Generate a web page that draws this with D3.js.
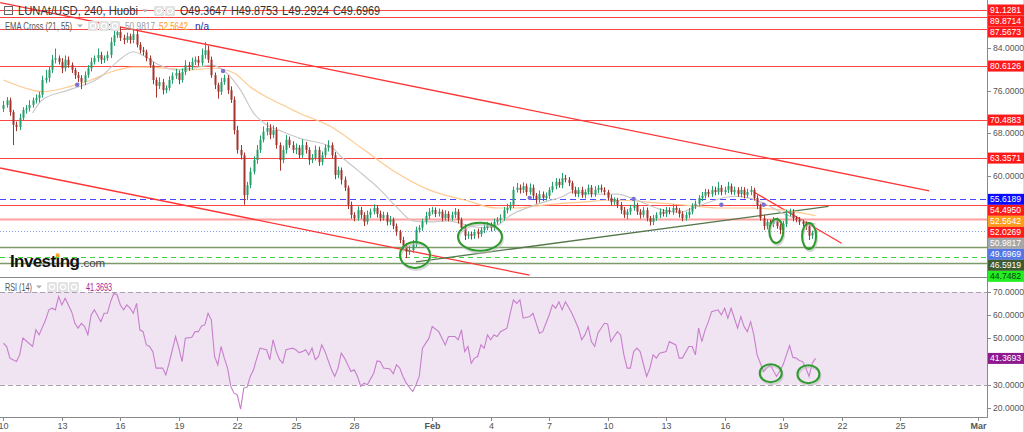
<!DOCTYPE html>
<html>
<head>
<meta charset="utf-8">
<script src="https://cdn.jsdelivr.net/npm/d3@7"></script>
<style>
  html, body { margin: 0; padding: 0; background: #fff; }
  svg { display: block; font-family: Arial, "Liberation Sans", sans-serif; }
</style>
</head>
<body>
<svg id="chart" width="1024" height="432"></svg>
<script>
/* ---------------------------------------------
 * DATA - LUNA/USD, 4h bars from Huobi.
 * Bar i opens at startTime + i*4h; its open is the previous close.
 * -------------------------------------------*/
const symbol = 'LUNAt/USD, 240, Huobi';
const startTime = Date.UTC(2022, 0, 10);
const firstOpen = 72.6;

const closes = [
  73.3,74.2,72.0,69.6,69.2,70.9,72.4,72.7,73.3,74.2,74.6,75.2,
  78.0,78.4,79.9,81.8,82.1,81.4,80.2,81.8,80.8,79.9,78.9,78.4,
  77.6,78.9,80.2,81.4,82.1,82.7,81.8,82.1,82.7,85.1,86.4,87.0,
  85.9,85.5,86.2,85.5,86.6,84.6,83.6,83.3,82.1,80.8,78.0,76.9,
  77.6,76.1,76.5,78.0,78.8,79.3,78.0,79.5,80.8,80.4,81.4,81.8,
  81.2,82.7,83.6,81.8,78.9,77.1,75.8,77.6,78.4,76.1,74.3,68.6,
  64.9,63.9,56.4,58.3,60.8,63.0,64.9,66.8,68.3,69.0,67.7,68.6,
  65.8,63.0,64.9,66.8,65.8,64.9,65.3,63.9,65.8,64.9,63.0,63.4,
  64.9,62.6,63.9,65.3,65.8,63.9,60.2,61.1,59.3,57.8,54.6,52.7,
  52.1,53.6,52.7,51.4,52.7,53.3,54.0,52.9,52.1,52.7,51.4,51.8,
  50.6,49.5,48.0,46.9,45.8,46.1,47.3,49.9,50.3,51.4,52.5,53.3,
  53.6,52.9,53.3,52.1,52.9,52.1,52.7,53.3,51.8,50.3,48.8,49.1,
  48.8,49.5,49.1,49.9,50.3,50.8,50.3,51.4,51.8,52.1,53.6,54.0,
  54.6,57.4,57.8,57.4,58.1,57.0,57.8,56.3,55.5,56.6,55.9,56.3,
  57.4,58.1,58.9,58.3,59.6,59.3,58.7,57.4,56.6,57.4,56.4,57.0,
  57.8,56.6,57.4,57.8,57.4,57.0,55.9,55.1,55.5,54.6,53.6,52.7,
  53.3,54.0,54.6,53.3,52.7,53.6,52.1,51.4,52.1,52.7,53.3,52.9,
  53.6,53.3,54.0,53.6,52.9,52.1,52.7,53.3,54.4,54.8,55.9,56.3,
  57.0,56.6,57.4,57.0,57.8,57.0,57.4,58.1,57.0,57.4,56.6,57.4,
  56.4,57.0,57.4,55.9,54.4,52.1,50.6,51.4,51.0,51.8,50.6,49.9,
  51.0,52.9,53.3,52.1,51.8,51.4,51.0,50.6,48.8,49.3647,49.6969
];
// wick lengths above the body top / below the body bottom
const wickUp = [
  0.8,0.6,0.5,0.4,0.6,0.8,0.5,0.6,0.9,0.5,0.7,0.6,
  0.8,1.5,0.6,0.9,1.8,0.5,0.7,0.8,0.6,0.5,0.4,0.6,
  0.5,0.7,0.6,0.8,0.5,1.2,0.6,0.5,0.7,0.9,0.8,0.8,
  0.9,0.6,0.7,0.5,0.9,0.6,0.5,0.6,0.4,0.5,0.6,0.5,
  0.9,0.6,0.5,0.7,0.6,0.8,0.5,0.7,0.9,0.6,0.8,0.6,
  0.7,1.2,1.5,0.8,0.6,0.5,0.4,0.8,0.6,0.5,0.7,0.6,
  0.8,0.9,0.5,0.6,0.8,0.7,0.9,0.8,1.0,1.1,0.7,0.9,
  0.6,0.5,0.8,0.9,0.6,0.7,0.8,0.5,1.1,0.6,0.5,0.7,
  0.8,0.6,0.7,0.6,0.9,0.5,0.6,0.7,0.5,0.6,0.4,0.6,
  0.5,0.7,0.6,0.5,0.8,0.6,0.7,0.5,0.6,0.6,0.5,0.7,
  0.4,0.5,0.4,0.6,0.5,0.8,0.7,0.6,0.5,0.6,0.8,0.7,
  0.6,0.5,0.6,0.4,0.7,0.5,0.6,0.7,0.5,0.4,0.6,0.5,
  0.4,0.5,0.6,0.5,0.7,0.6,0.5,0.6,0.5,0.7,0.6,0.8,
  0.5,0.6,0.9,0.6,0.7,0.5,0.8,0.6,0.5,0.7,0.5,0.6,
  0.5,0.8,0.7,0.6,1.0,0.6,0.5,0.4,0.6,0.5,0.6,0.5,
  0.6,0.5,0.7,0.5,0.6,0.5,0.4,0.6,0.5,0.4,0.5,0.6,
  0.5,0.6,0.7,0.4,0.5,0.6,0.5,0.4,0.6,0.5,0.6,0.5,
  0.6,0.5,0.7,0.5,0.4,0.5,0.6,0.7,0.5,0.6,0.5,0.7,
  0.6,0.5,0.7,0.6,1.1,0.5,0.6,0.8,0.5,0.6,0.5,0.6,
  0.5,0.6,0.7,0.4,0.5,0.4,0.6,0.5,0.4,0.5,0.4,0.5,
  0.6,0.8,0.6,0.5,0.4,0.5,0.4,0.5,0.6,0.4,0.1784
];
const wickDn = [
  0.6,0.5,0.7,3.8,0.8,0.6,0.5,0.7,0.6,0.5,0.6,0.8,
  0.5,0.6,0.8,0.6,0.7,0.5,0.9,0.6,0.5,0.6,0.7,0.8,
  1.3,0.6,0.5,0.6,0.5,0.7,0.8,0.6,0.5,0.6,0.7,0.5,
  0.6,0.8,0.5,0.7,0.6,0.5,0.6,0.7,0.6,0.5,0.8,2.2,
  0.6,0.8,0.6,0.5,0.7,0.6,0.8,0.5,0.6,0.7,0.5,0.6,
  0.6,0.5,0.7,0.6,0.5,0.8,1.3,0.6,0.5,0.7,0.6,0.8,
  0.7,0.8,1.8,0.9,0.6,0.5,0.7,0.6,0.5,0.7,0.8,0.6,
  0.7,2.0,0.6,0.7,0.5,0.6,0.8,0.6,0.5,0.7,0.9,0.6,
  0.5,0.7,0.6,0.5,0.7,0.6,0.8,0.6,0.9,0.6,0.8,0.7,
  0.6,0.5,0.7,0.8,0.5,0.6,0.5,0.7,0.6,0.5,0.7,0.6,
  0.6,0.7,0.6,0.7,1.2,0.6,0.5,0.6,0.5,0.6,0.5,0.6,
  0.5,0.6,0.5,0.6,0.5,0.6,0.5,0.6,0.7,0.6,0.8,0.6,
  0.7,0.6,0.8,0.5,0.6,0.5,0.7,0.6,0.5,0.6,0.5,0.6,
  0.5,0.6,0.5,0.7,0.6,0.7,0.5,0.6,0.7,0.5,0.6,0.5,
  0.6,0.5,0.6,0.5,0.6,0.5,0.6,0.7,0.5,0.6,0.5,0.6,
  0.5,0.6,0.5,0.6,0.5,0.6,0.5,0.6,0.5,0.6,0.7,0.6,
  0.8,0.6,0.5,0.6,0.7,0.5,0.6,0.7,0.6,0.5,0.6,0.5,
  0.6,0.5,0.6,0.5,0.7,0.6,0.5,0.6,0.5,0.6,0.5,0.6,
  0.5,0.6,0.5,0.6,0.5,0.6,0.5,0.6,0.5,0.6,0.5,0.6,
  0.6,0.5,0.6,0.5,0.6,0.5,0.7,0.6,0.5,0.6,0.5,0.8,
  0.5,0.6,0.5,0.6,0.5,0.6,0.5,0.7,0.8,0.6,0.0723
];

// EMA Cross (21, 55): [bar index, value]
const emaFast = [
  [9,71.8],[12,74.3],[20,76.1],[30,78.6],[35,81.4],[40,83.3],[43,82.6],[48,80.8],[53,79.9],
  [58,80.2],[64,80.8],[68,79.7],[73,76.1],[77,71.8],[81,69.6],[86,68.3],[91,67.1],[101,65.4],
  [104,63.6],[109,61.1],[116,57.4],[121,54.2],[126,51.6],[131,51.4],[137,51.6],[142,50.9],
  [147,50.3],[152,50.8],[156,52.6],[162,54.2],[167,55.2],[172,56.1],[175,57.0],[183,56.6],
  [189,56.6],[194,55.7],[202,53.8],[208,53.2],[214,54.4],[225,56.2],[230,55.8],[235,54.6],
  [240,53.0],[245,51.8],[250,50.9817]
];
const emaSlow = [
  [0,78.0],[9,76.1],[12,75.8],[20,76.7],[27,78.0],[33,79.5],[40,80.4],[45,80.4],[50,80.2],
  [57,79.9],[65,80.2],[71,79.3],[76,76.7],[81,74.8],[86,73.3],[91,71.8],[101,69.2],[111,64.9],
  [121,60.6],[131,57.4],[142,55.5],[152,54.0],[158,54.0],[167,54.6],[178,55.1],[188,55.5],
  [202,54.9],[209,54.6],[220,54.0],[230,54.0],[240,53.6],[250,52.5642]
];
const emaCrosses = [[22.7,77.1],[67.6,79.7],[162,55.9],[194,55.7],[221,54.6],[234,54.6]];

// RSI (14): [bar index, value]
const rsi = [
  [0,47.9],[1,46.5],[2,41.5],[4,40],[5,42.9],[6,50.1],[9,46.5],[10,53.7],[11,51.5],[13,58],
  [14,62.3],[15,63],[16,62.3],[17,68],[18,64.4],[19,67.3],[21,61.5],[22,56.5],[23,54.4],
  [24,56.5],[25,55.1],[26,51.5],[27,60.1],[28,62.3],[30,57.2],[31,60.8],[32,60.8],[33,65.8],
  [34,69.4],[35,68.7],[36,64.4],[37,62.3],[38,64.4],[39,63],[40,60.8],[41,65.1],[42,53.7],
  [43,52.9],[44,47.2],[45,46.5],[46,44.3],[47,37.2],[49,37.2],[50,34.3],[51,39.3],[53,50.8],
  [54,45.8],[55,40],[56,50.1],[58,50.5],[59,52.9],[60,52.9],[61,55.4],[62,55.8],[63,60.8],
  [64,58],[65,42.2],[66,38.6],[67,46.5],[68,41.5],[69,37.2],[70,29.3],[71,26.4],[72,25.7],
  [73,19.5],[74,28.6],[75,29],[76,33.6],[77,36.5],[78,41.5],[79,45.8],[81,45.1],[82,40.8],
  [83,49.4],[84,44.3],[85,40.8],[86,39.3],[87,45.1],[89,45.8],[90,45.1],[91,43.9],[92,44.3],
  [93,45.1],[94,42.9],[95,45.8],[96,40.8],[97,42.2],[98,47.2],[99,44.3],[101,36.5],[102,33.6],
  [103,37.2],[104,43.6],[105,41.5],[107,35.7],[108,36.5],[109,33.6],[110,29.3],[111,30.7],
  [112,30],[114,35],[115,40.3],[116,40],[117,37.2],[119,36.8],[120,34.7],[121,38.6],[122,37.2],
  [123,33.6],[124,30.7],[126,27.1],[127,30],[128,33.6],[129,45.8],[131,50.1],[132,55.1],
  [134,52.9],[136,47.2],[137,50.8],[139,50.8],[140,49.4],[141,53.7],[142,44.3],[143,46.5],
  [144,39.3],[145,41.5],[146,42.2],[147,47.2],[148,45.8],[149,51.5],[150,49.4],[151,51.5],
  [152,50.8],[153,52.9],[155,54.4],[156,60.8],[157,66.6],[158,65.1],[159,66.6],[160,58.7],
  [162,59.4],[163,60.8],[165,52.2],[166,52.9],[168,60.1],[169,64.4],[170,63],[171,65.8],
  [172,62.3],[173,65.8],[175,60.8],[177,54.4],[178,49.4],[179,51.5],[180,55.1],[181,48.6],
  [182,46.5],[183,52.2],[185,56.5],[186,56.2],[187,48.6],[188,50.8],[189,52.9],[190,51.5],
  [191,42.9],[192,37.2],[193,37.2],[194,44.3],[195,45.8],[196,44.3],[198,33.6],[199,37.2],
  [200,42.9],[201,41.5],[202,43.6],[204,44.3],[205,48.6],[207,47.2],[208,41.5],[209,41.5],
  [211,46.5],[212,46.5],[213,42.9],[214,54.4],[215,48.6],[216,53.7],[217,57.2],[218,61.5],
  [220,62.3],[221,60.1],[222,63],[223,58.7],[224,63],[226,54.4],[227,59.4],[228,55.1],
  [229,52.9],[230,57.2],[231,51.5],[232,42.9],[234,35.7],[235,37.2],[236,38.6],[238,33.6],
  [240,38.6],[242,46.9],[243,41.9],[244,41.5],[245,40.5],[246,40],[247,37.2],[248,33.6],
  [249,39.3],[250,41.3693]
];

// horizontal levels drawn on the chart
const levelPrices = [91.1281, 89.8714, 87.5673, 80.6126, 70.4883, 63.3571, 55.6189, 54.4950, 52.0269, 49.6969, 46.5919, 44.7482, 43.75];
const levelKinds  = ['red','red','red','red','red','red','blue','red','pink','last','olive','lime','olive'];

// drawn trend lines: [[bar, price], [bar, price]]
const trendLines = [
  { kind: 'red',   pts: [[-1, 92.5], [285, 57.2]] },
  { kind: 'red',   pts: [[-1, 61.5], [162, 41.4]] },
  { kind: 'olive', pts: [[127, 43.9], [254, 54.3]] },
  { kind: 'red',   pts: [[231, 57.0], [258, 47.4]] }
];
// green circles: price pane and RSI pane, [bar, value]
const priceCircles = [[126.7, 45.2], [146.7, 48.6], [237.9, 49.7], [248, 48.75]];
const rsiCircles = [[236.2, 35.0], [247.8, 34.6]];

const priceTicks = [44, 48, 52, 56, 60, 64, 68, 72, 76, 80, 84, 88, 92];
const rsiTicks = [20, 30, 40, 50, 60, 70];
const dayTicks = ['2022-01-10','2022-01-13','2022-01-16','2022-01-19','2022-01-22','2022-01-25','2022-01-28',
  '2022-02-01','2022-02-04','2022-02-07','2022-02-10','2022-02-13','2022-02-16','2022-02-19','2022-02-22',
  '2022-02-25','2022-03-01'];

/* ---------------------------------------------
 * Layout + scales
 * -------------------------------------------*/
const svg = d3.select('#chart');
const axisX = 987;
const mainBot = 277, rsiTop = 277, rsiBot = 417;

const x = d3.scaleUtc().domain([Date.UTC(2022,0,10), Date.UTC(2022,2,1)]).range([3.4, 978]);
const barTime = i => new Date(startTime + i * 4 * 3600e3);
const xb = i => x(barTime(i));
const y = d3.scaleLinear().domain([41.06, 93.0]).range([mainBot, 0]);
const yR = d3.scaleLinear().domain([16.13, 76.45]).range([rsiBot, rsiTop]);
const f4 = d3.format('.4f');

const defs = svg.append('defs');
defs.append('clipPath').attr('id','clipMain').append('rect').attr('x',0).attr('y',0).attr('width',axisX).attr('height',mainBot);
defs.append('clipPath').attr('id','clipRsi').append('rect').attr('x',0).attr('y',rsiTop).attr('width',axisX).attr('height',rsiBot-rsiTop);

svg.append('rect').attr('width',1024).attr('height',432).attr('fill','#fff');

/* ---------- RSI pane ---------- */
const gR = svg.append('g').attr('clip-path','url(#clipRsi)');
gR.append('rect').attr('x',0).attr('width',axisX)
  .attr('y', yR(70)).attr('height', yR(30) - yR(70)).attr('fill','#f1e4f2');
[70, 30].forEach(v => gR.append('line').attr('x1',0).attr('x2',axisX)
  .attr('y1', Math.round(yR(v))+0.5).attr('y2', Math.round(yR(v))+0.5)
  .attr('stroke','#a8a0ac').attr('stroke-dasharray','5,3'));
gR.append('path').datum(rsi)
  .attr('d', d3.line().x(d => xb(d[0])).y(d => yR(d[1])))
  .attr('fill','none').attr('stroke','#c67fcc').attr('stroke-width',1.1);
rsiCircles.forEach(c => {
  gR.append('ellipse').attr('cx', xb(c[0])+1).attr('cy', yR(c[1])+2).attr('rx',11).attr('ry',9)
    .attr('fill','none').attr('stroke','#bbb').attr('stroke-width',2).attr('opacity',0.6);
  gR.append('ellipse').attr('cx', xb(c[0])).attr('cy', yR(c[1])).attr('rx',11).attr('ry',9)
    .attr('fill','none').attr('stroke','#2c9a2c').attr('stroke-width',2);
});

/* ---------- price pane ---------- */
const gM = svg.append('g').attr('clip-path','url(#clipMain)');
const levelStyle = {
  red:   { stroke:'#ff3030', w:1.2, dash:null, op:0.9 },
  pink:  { stroke:'#ff8a8a', w:2,   dash:null, op:0.8 },
  blue:  { stroke:'#4848ff', w:1.2, dash:'6,4', op:1 },
  last:  { stroke:'#8a9cf0', w:1,   dash:'1,2', op:1 },
  olive: { stroke:'#7d9a6a', w:1.6, dash:null, op:1 },
  lime:  { stroke:'#3ad33a', w:1.2, dash:'5,4', op:1 }
};
levelPrices.forEach((p, k) => {
  const s = levelStyle[levelKinds[k]];
  const yy = Math.round(y(p)) + 0.5;
  gM.append('line').attr('x1',0).attr('x2',axisX).attr('y1',yy).attr('y2',yy)
    .attr('stroke', s.stroke).attr('stroke-width', s.w).attr('stroke-dasharray', s.dash).attr('opacity', s.op);
});

const trendColor = { red:'#ff3535', olive:'#55784a' };
trendLines.forEach(t => {
  gM.append('line')
    .attr('x1', xb(t.pts[0][0])).attr('y1', y(t.pts[0][1]))
    .attr('x2', xb(t.pts[1][0])).attr('y2', y(t.pts[1][1]))
    .attr('stroke', trendColor[t.kind]).attr('stroke-width', 1.3);
});

const emaLine = d3.line().curve(d3.curveMonotoneX).x(d => xb(d[0])).y(d => y(d[1]));
gM.append('path').datum(emaSlow).attr('d', emaLine).attr('fill','none').attr('stroke','#ffc98f').attr('stroke-width',1.2);
gM.append('path').datum(emaFast).attr('d', emaLine).attr('fill','none').attr('stroke','#c9c9c9').attr('stroke-width',1.2);

// candles
const bars = closes.map((c, i) => {
  const o = i ? closes[i-1] : firstOpen;
  return { i, o, c, h: Math.max(o, c) + wickUp[i], l: Math.min(o, c) - wickDn[i] };
});
const upCol = '#23a06a', dnCol = '#a3352c';
const gC = gM.append('g');
gC.selectAll('line').data(bars).join('line')
  .attr('x1', d => Math.round(xb(d.i)) + 0.5).attr('x2', d => Math.round(xb(d.i)) + 0.5)
  .attr('y1', d => y(d.h)).attr('y2', d => y(d.l))
  .attr('stroke', d => d.c >= d.o ? upCol : dnCol).attr('stroke-width', 1);
gC.selectAll('rect').data(bars).join('rect')
  .attr('x', d => Math.round(xb(d.i)) - 0.5).attr('width', 2)
  .attr('y', d => y(Math.max(d.o, d.c)))
  .attr('height', d => Math.max(1, Math.abs(y(d.o) - y(d.c))))
  .attr('fill', d => d.c >= d.o ? upCol : dnCol);

gM.selectAll('circle.cross').data(emaCrosses).join('circle').attr('class','cross')
  .attr('cx', d => xb(d[0])).attr('cy', d => y(d[1])).attr('r', 2.2).attr('fill','#7b6fd6');

priceCircles.forEach((c, k) => {
  const r = [[15,13],[22,14],[7,12],[7,13]][k];
  gM.append('ellipse').attr('cx', xb(c[0])+1).attr('cy', y(c[1])+2).attr('rx',r[0]).attr('ry',r[1])
    .attr('fill','none').attr('stroke','#bbb').attr('stroke-width',2).attr('opacity',0.6);
  gM.append('ellipse').attr('cx', xb(c[0])).attr('cy', y(c[1])).attr('rx',r[0]).attr('ry',r[1])
    .attr('fill','none').attr('stroke','#2c9a2c').attr('stroke-width',2);
});

// watermark
const logo = svg.append('g').attr('transform','translate(10,267)');
const inv = logo.append('text').attr('font-size',17).attr('font-weight','bold').attr('fill','#111')
  .attr('letter-spacing','-0.6').text('Investing');
const invW = inv.node().getComputedTextLength();
logo.append('text').attr('x', invW + 1).attr('font-size',11.5).attr('fill','#444').text('.com');
const sub = inv.node().getSubStringLength(0, 6), iw = inv.node().getSubStringLength(6, 1);
logo.append('rect').attr('x', sub + iw/2 - 1.8).attr('y', -13.5).attr('width',3.6).attr('height',3.6).attr('fill','#f4a11d');

/* ---------- pane borders + axes ---------- */
svg.append('line').attr('x1',0).attr('x2',axisX).attr('y1',mainBot+0.5).attr('y2',mainBot+0.5).attr('stroke','#8a8a8a');
svg.append('line').attr('x1',0).attr('x2',axisX+0.5).attr('y1',rsiBot+0.5).attr('y2',rsiBot+0.5).attr('stroke','#8a8a8a');
svg.append('line').attr('x1',axisX+0.5).attr('x2',axisX+0.5).attr('y1',0).attr('y2',rsiBot+1).attr('stroke','#8a8a8a');
svg.append('line').attr('x1',1023.5).attr('x2',1023.5).attr('y1',0).attr('y2',432).attr('stroke','#ddd');

/* ---------- value labels on the price scale (stacked so they never overlap) ---------- */
const labelCol = { red:'#ff1a1a', pink:'#ff1a1a', blue:'#0a0aff', last:'#5577e6', olive:'#3f5a2c', lime:'#22ee22' };
const priceLabels = levelPrices.slice(0, -1).map((p, k) => ({ v: p, bg: labelCol[levelKinds[k]], fg: levelKinds[k]==='lime' ? '#0a3a0a' : '#fff' }))
  .concat([
    { v: emaSlow[emaSlow.length-1][1], bg:'#ff9a1a', fg:'#fff' },
    { v: emaFast[emaFast.length-1][1], bg:'#a6a6a6', fg:'#fff' }
  ]);
function stack(list, scale) {
  list.sort((a, b) => scale(a.v) - scale(b.v));
  let prev = -1e9;
  list.forEach(d => { d.y = Math.max(scale(d.v), prev + 11); prev = d.y; });
  return list;
}
const mainLabels = stack(priceLabels, y);
const rsiLabels = stack([{ v: rsi[rsi.length-1][1], bg:'#8e1a8e', fg:'#fff' }], yR);

const gA = svg.append('g').attr('font-size',8.6).attr('fill','#555');
function tickLabels(vals, scale, lo, hi, boxes) {
  vals.forEach(v => {
    const yy = scale(v);
    if (yy < lo || yy > hi) return;
    if (boxes.some(b => Math.abs(b.y - yy) < 10.5)) return;   // hidden behind a value label
    gA.append('line').attr('x1',axisX).attr('x2',axisX+4).attr('y1',Math.round(yy)+0.5).attr('y2',Math.round(yy)+0.5).attr('stroke','#888');
    gA.append('text').attr('x', axisX+6).attr('y', yy).attr('dy','0.35em').text(f4(v));
  });
}
tickLabels(priceTicks, y, 2, mainBot - 3, mainLabels);
tickLabels(rsiTicks, yR, rsiTop + 4, rsiBot - 4, rsiLabels);

mainLabels.concat(rsiLabels).forEach(d => {
  svg.append('rect').attr('x', axisX+1).attr('y', d.y - 5.5).attr('width', 36).attr('height', 11).attr('fill', d.bg);
  svg.append('text').attr('x', axisX+3).attr('y', d.y).attr('dy','0.35em').attr('font-size',8.6).attr('fill', d.fg).text(f4(d.v));
});

// time axis
const gT = svg.append('g').attr('font-size',9).attr('fill','#555').attr('text-anchor','middle');
dayTicks.forEach(s => {
  const d = new Date(s + 'T00:00:00Z');
  const xx = Math.round(x(d)) + 0.5;
  const isMonth = d.getUTCDate() === 1;
  gT.append('line').attr('x1',xx).attr('x2',xx).attr('y1',rsiBot).attr('y2',rsiBot+4).attr('stroke','#888');
  gT.append('text').attr('x',xx).attr('y',428.5).attr('font-weight', isMonth ? 'bold' : null)
    .text(isMonth ? d3.utcFormat('%b')(d) : d.getUTCDate());
});

/* ---------- legends ---------- */
function icons(g, x0, yTop, n) {
  for (let k = 0; k < n; k++) {
    g.append('rect').attr('x', x0 + k*11).attr('y', yTop).attr('width',10).attr('height',10).attr('rx',1.5).attr('fill','#e2e2e2');
    g.append('circle').attr('cx', x0 + k*11 + 5).attr('cy', yTop + 5).attr('r', 2.6).attr('fill','none').attr('stroke','#fff').attr('stroke-width',1.1);
  }
}
function caret(g, cx, cy) {
  g.append('path').attr('d', `M${cx-3},${cy-1.5}L${cx+3},${cy-1.5}L${cx},${cy+1.5}Z`).attr('fill','#b0b0b0');
}
function fitText(g, str, x0, yb, size, width, col) {
  return g.append('text').attr('x', x0).attr('y', yb).attr('font-size', size).attr('fill', col)
    .attr('textLength', width).attr('lengthAdjust','spacingAndGlyphs').text(str);
}
const gL = svg.append('g');
const last = bars[bars.length-1];
gL.append('rect').attr('x',4.5).attr('y',6.5).attr('width',8).attr('height',8).attr('fill','none').attr('stroke','#666');
gL.append('line').attr('x1',6.5).attr('x2',10.5).attr('y1',10.5).attr('y2',10.5).attr('stroke','#666');
fitText(gL, symbol, 18, 15, 12.5, 120, '#333');
caret(gL, 145, 11);
icons(gL, 154, 6, 2);
[['O', last.o, 180], ['H', last.h, 231], ['L', last.l, 282], ['C', last.c, 333]].forEach(d =>
  fitText(gL, d[0] + f4(d[1]), d[2], 15, 12, 47, '#333'));

fitText(gL, 'EMA Cross (21, 55)', 5, 30, 10, 67, '#555');
caret(gL, 80, 26);
icons(gL, 88, 21, 3);
fitText(gL, f4(emaFast[emaFast.length-1][1]), 125, 30, 10, 30, '#a0a0a0');
fitText(gL, f4(emaSlow[emaSlow.length-1][1]), 159, 30, 10, 29, '#ff9a1a');
fitText(gL, 'n/a', 195, 30, 10, 14, '#2a2aa8');

fitText(gL, 'RSI (14)', 5, 291, 10, 27, '#555');
caret(gL, 39, 287);
icons(gL, 47, 282, 3);
fitText(gL, f4(rsi[rsi.length-1][1]), 86, 291, 10, 26, '#9a239a');
</script>
</body>
</html>
